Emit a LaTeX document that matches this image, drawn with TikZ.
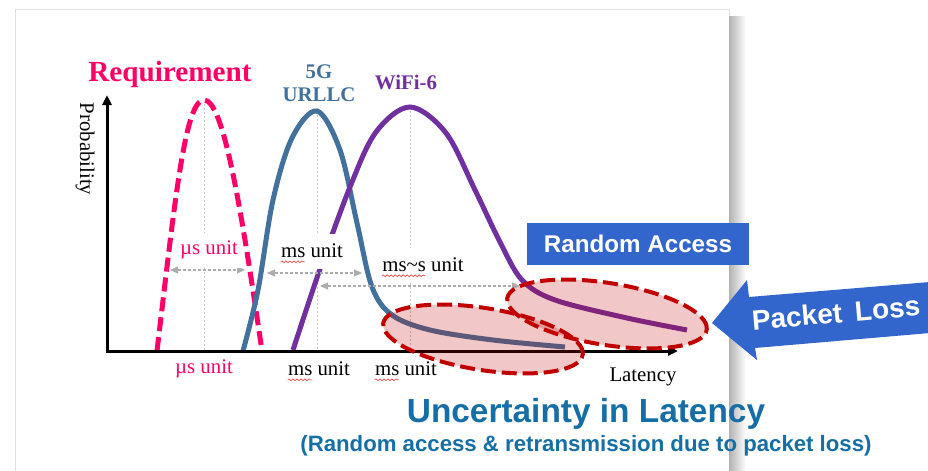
\documentclass[tikz,border=0pt]{standalone}
\usepackage{fontspec}
\setmainfont{Liberation Serif}
\setsansfont{Liberation Sans}
\usepackage{tikz}
\usetikzlibrary{arrows.meta}
\usetikzlibrary{decorations.pathmorphing}
\definecolor{reqpink}{HTML}{FF0066}
\definecolor{urllcblue}{HTML}{41719C}
\definecolor{wifipurple}{HTML}{7030A0}
\definecolor{lossred}{HTML}{C00000}
\definecolor{boxblue}{HTML}{3366CC}
\definecolor{titleblue}{HTML}{156FA6}
\tikzstyle{hump} = [line width=2.5pt]
\tikzstyle{guide} = [gray!45, line width=0.4pt, dash pattern=on 1pt off 1pt]
\tikzstyle{spanarrow} = [{Triangle[length=4pt,width=3.5pt]}-{Triangle[length=4pt,width=3.5pt]},
    gray!65, line width=0.6pt, dash pattern=on 1.5pt off 1pt]
\tikzstyle{blob} = [draw=lossred, fill=lossred, fill opacity=0.22,
    line width=2pt, dash pattern=on 7.5pt off 3pt]
\tikzstyle{unit} = [font=\fontsize{10.4}{12}\selectfont, inner sep=1pt]
\tikzstyle{gaplabel} = [unit, fill=white, minimum height=17.5pt]
\tikzstyle{squiggle} = [red!80, line width=0.3pt, decorate,
    decoration={snake, amplitude=0.45pt, segment length=2pt}]
\tikzset{>={Triangle[length=5pt,width=4.5pt]}}

\begin{document}
\begin{tikzpicture}[x=0.5pt, y=-0.5pt]
\useasboundingbox (0,0) rectangle (928,471);
%slide page and its shadow
\draw[gray!25, fill=white] (15,9) rectangle (729,471);
\shade[left color=black!30, right color=white] (729,16) rectangle (746,471);
%axes
\coordinate (o) at (107,351);
\coordinate (ytip) at (107,95);
\coordinate (xtip) at (678,351);
%peaks
\coordinate (reqpk) at (204,100);
\coordinate (urpk) at (317,111);
\coordinate (wfpk) at (410,107);
\draw[guide] ([yshift=-2pt]reqpk) -- (reqpk |- o);
\draw[guide] ([yshift=-2pt]urpk) -- (urpk |- o);
\draw[guide] ([yshift=-2pt]wfpk) -- (wfpk |- o);
%requirement
\draw[hump, reqpink, dash pattern=on 7pt off 3pt] (157,351)
    .. controls (175,200) and (185,100) .. (reqpk)
    .. controls (223,100) and (240,200) .. (262,351);
%5G URLLC
\draw[hump, urllcblue] plot[smooth, tension=0.55] coordinates {(243,351) (258,290)
    (273,200) (292,138) (urpk) (340,150) (357,223) (372,287) (392,315) (430,330)
    (493,340) (565,347)};
%WiFi-6
\draw[hump, wifipurple] plot[smooth, tension=0.55] coordinates {(293,350) (320,269)
    (350,187) (376,132) (wfpk) (446,133) (475,190) (500,242) (522,280) (555,300)
    (627,318) (687,330)};
\draw[<->, line width=1.5pt] (ytip) -- (o) -- (xtip);
\node[unit, rotate=-90] (prob) at (85,149) {Probability};
\node[unit] (lat) at (643,377) {Latency};
%spans
\coordinate (us1) at (170,270); \coordinate (us2) at (245,270);
\coordinate (ms1) at (267,273); \coordinate (ms2) at (362,273);
\coordinate (mss1) at (320,286); \coordinate (mss2) at (520,286);
\draw[spanarrow] (us1) -- (us2);
\draw[spanarrow] (ms1) -- (ms2);
\draw[spanarrow] (mss1) -- (mss2);
\node[gaplabel, text=reqpink] (usup) at (209,250) {µs unit};
\node[gaplabel] (msup) at (312,251) {ms unit};
\node[gaplabel] (mssup) at (423,265) {ms\textasciitilde s unit};
\node[unit, text=reqpink] (usdn) at (204,369) {µs unit};
\node[unit] (msdn) at (319,369) {ms unit};
\node[unit] (msdn2) at (406,369) {ms unit};
\draw[squiggle] ([xshift=1pt,yshift=-2pt]msup.base west) -- ++(12pt,0);
\draw[squiggle] ([xshift=1pt,yshift=-2pt]mssup.base west) -- ++(21.5pt,0);
\draw[squiggle] ([xshift=1pt,yshift=-2pt]msdn.base west) -- ++(12pt,0);
\draw[squiggle] ([xshift=1pt,yshift=-2pt]msdn2.base west) -- ++(12pt,0);
%curve names
\node[font=\bfseries\fontsize{14.6}{16}\selectfont, text=reqpink] (req) at (170,74) {Requirement};
\node[font=\bfseries\fontsize{10.4}{11.5}\selectfont, text=urllcblue, align=center] (urllc) at (319,83) {5G\\URLLC};
\node[font=\bfseries\fontsize{10.4}{12}\selectfont, text=wifipurple] (wifi) at (406,82) {WiFi-6};
%tails
\coordinate (e1) at (483,339);
\coordinate (e2) at (607,314);
\draw[blob, rotate around={-9:(e1)}] (e1) ellipse [x radius=50.5pt, y radius=15.5pt];
\draw[blob, rotate around={-9:(e2)}] (e2) ellipse [x radius=50.5pt, y radius=15.5pt];
%callouts
\node[fill=boxblue, text=white, font=\sffamily\bfseries\fontsize{12.1}{14}\selectfont,
    minimum width=111pt, minimum height=21pt, inner sep=0pt] (ra) at (638,244) {Random Access};
\fill[boxblue] (712,323) -- (747,280) -- (749,297) -- (930,282) -- (930,333)
    -- (755,348) -- (757,360) -- cycle;
\node[text=white, font=\sffamily\bfseries\fontsize{14}{16}\selectfont, rotate=5] (pl) at (836,313)
    {Packet\hspace{6.5pt}Loss};
%title
\node[anchor=base, text=titleblue, font=\sffamily\bfseries\fontsize{16.7}{19}\selectfont] (unc)
    at (586,422) {Uncertainty in Latency};
\node[anchor=base, text=titleblue, font=\sffamily\bfseries\fontsize{11.1}{13}\selectfont] (why)
    at (586,451) {(Random access \& retransmission due to packet loss)};
\end{tikzpicture}
\end{document}
